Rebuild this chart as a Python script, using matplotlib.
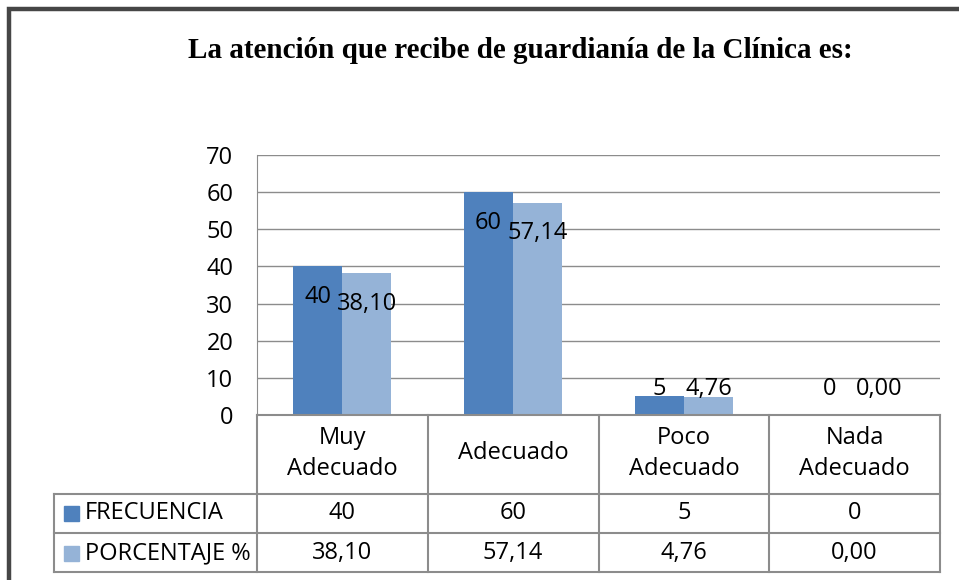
import matplotlib.pyplot as plt
from matplotlib.patches import Rectangle
from matplotlib.lines import Line2D

# datos
categorias = ['Muy\nAdecuado', 'Adecuado', 'Poco\nAdecuado', 'Nada\nAdecuado']
frecuencia = [40, 60, 5, 0]
porcentaje = [38.10, 57.14, 4.76, 0.00]
series = ['FRECUENCIA', 'PORCENTAJE %']
titulo = 'La atención que recibe de guardianía de la Clínica es:'

c_frec = '#4F81BD'
c_porc = '#95B3D7'
c_grid = '#8C8C8C'
fs = 17

W, H = 959, 580
fig = plt.figure(figsize=(W / 100, H / 100), dpi=100)
plt.rcParams['font.family'] = ['Open Sans', 'DejaVu Sans']


def px(x0, y0, x1, y1):
    return [x0 / W, 1 - y1 / H, (x1 - x0) / W, (y1 - y0) / H]


# marco exterior
fig.patches.append(Rectangle((9 / W, -0.1), 1.2, 1 - 9 / H + 0.1, transform=fig.transFigure,
                             fill=False, edgecolor='#464646', linewidth=3.2))

fig.text(520 / W, 1 - 50 / H, titulo, ha='center', va='center', fontsize=21,
         fontweight='bold', family='Liberation Serif')

ax = fig.add_axes(px(257, 155, 940, 415))
x = range(len(categorias))
bw = 0.287
ax.bar([i - bw / 2 for i in x], frecuencia, bw, color=c_frec, zorder=3)
ax.bar([i + bw / 2 for i in x], porcentaje, bw, color=c_porc, zorder=3)
ax.set_xlim(-0.5, 3.5)
ax.set_ylim(0, 70)
ax.set_yticks(range(0, 71, 10))
ax.set_xticks([])
ax.grid(axis='y', color=c_grid, linewidth=1, zorder=0)
for s in ['top', 'right', 'bottom']:
    ax.spines[s].set_visible(False)
ax.spines['left'].set_color(c_grid)
ax.tick_params(axis='y', length=0, pad=17, labelsize=fs)
for t in ax.get_yticklabels():
    t.set_horizontalalignment('right')

# etiquetas de datos
for i in x:
    yf = max(frecuencia[i] - 8.2, 7)
    yp = max(porcentaje[i] - 8.2, 7)
    ax.text(i - bw / 2, yf, str(frecuencia[i]), ha='center', va='center', fontsize=fs, zorder=4)
    ax.text(i + bw / 2, yp, f'{porcentaje[i]:.2f}'.replace('.', ','), ha='center', va='center',
            fontsize=fs, zorder=4)

# tabla de datos
tab = fig.add_axes(px(54, 415, 940, 572))
lw = (257 - 54) / ((940 - 257) / 4)
tab.set_xlim(-0.5 - lw, 3.5)
tab.set_ylim(4, 0)
tab.axis('off')


def linea(xs, ys):
    tab.add_line(Line2D(xs, ys, color=c_grid, linewidth=1.5, clip_on=False))


linea([-0.5, 3.5], [0, 0])
for b in [-0.5, 0.5, 1.5, 2.5, 3.5]:
    linea([b, b], [0, 4])
linea([-0.5 - lw, -0.5 - lw], [2, 4])
for r in [2, 3, 4]:
    linea([-0.5 - lw, 3.5], [r, r])

for i in x:
    tab.text(i, 0.98, categorias[i], ha='center', va='center', fontsize=fs, linespacing=1.4)
    tab.text(i, 2.5, str(frecuencia[i]), ha='center', va='center', fontsize=fs)
    tab.text(i, 3.52, f'{porcentaje[i]:.2f}'.replace('.', ','), ha='center', va='center', fontsize=fs)

for r, (nombre, col) in enumerate(zip(series, [c_frec, c_porc])):
    yc = 2.5 + r * 1.02
    tab.add_patch(Rectangle((-0.5 - lw + 0.06, yc - 0.19), 0.088, 0.38, color=col, clip_on=False))
    tab.text(-0.5 - lw + 0.18, yc, nombre, ha='left', va='center', fontsize=fs)

fig.savefig('out.png', dpi=100)
